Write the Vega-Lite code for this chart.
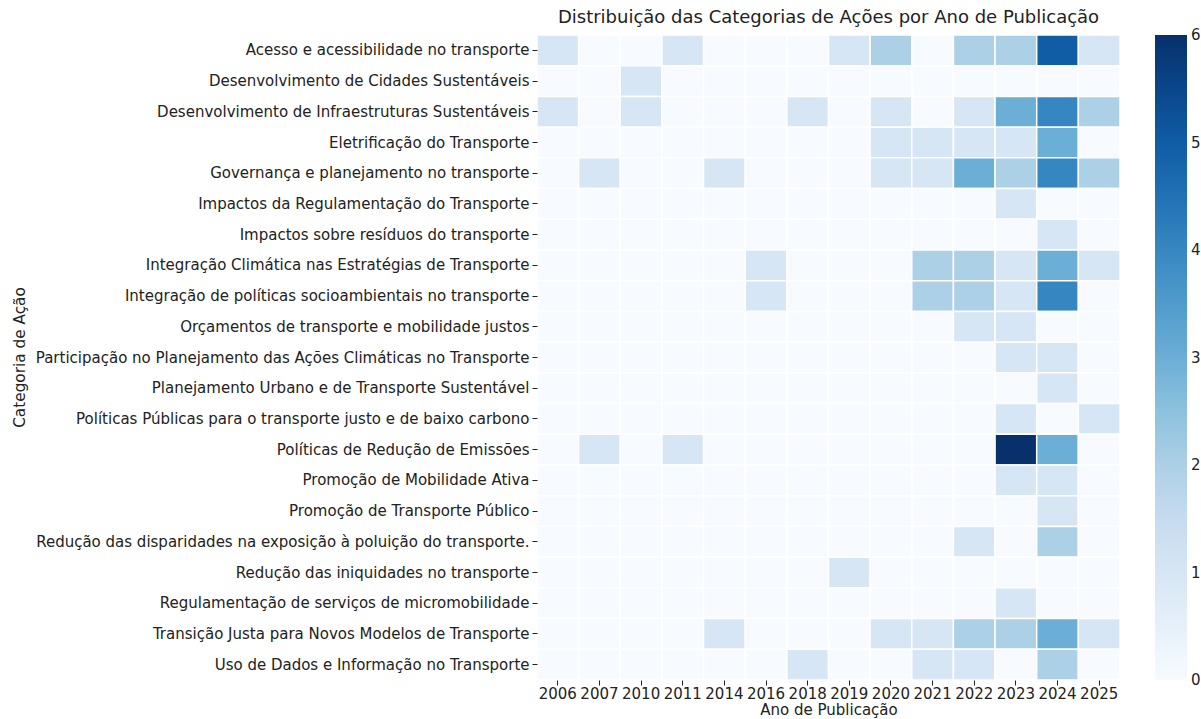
{
  "$schema": "https://vega.github.io/schema/vega-lite/v6.json",
  "width": 583,
  "height": 645,
  "autosize": "none",
  "padding": {"left": 537, "top": 35, "right": 81, "bottom": 39},
  "background": "white",
  "title": {"text": "Distribuição das Categorias de Ações por Ano de Publicação", "font": "DejaVu Sans", "fontSize": 18, "fontWeight": "normal", "color": "#222", "anchor": "middle", "offset": 7},
  "data": {"values": [
    {"c":"Acesso e acessibilidade no transporte","y":"2006","v":1},{"c":"Acesso e acessibilidade no transporte","y":"2007","v":0},{"c":"Acesso e acessibilidade no transporte","y":"2010","v":0},{"c":"Acesso e acessibilidade no transporte","y":"2011","v":1},{"c":"Acesso e acessibilidade no transporte","y":"2014","v":0},{"c":"Acesso e acessibilidade no transporte","y":"2016","v":0},{"c":"Acesso e acessibilidade no transporte","y":"2018","v":0},{"c":"Acesso e acessibilidade no transporte","y":"2019","v":1},{"c":"Acesso e acessibilidade no transporte","y":"2020","v":2},{"c":"Acesso e acessibilidade no transporte","y":"2021","v":0},{"c":"Acesso e acessibilidade no transporte","y":"2022","v":2},{"c":"Acesso e acessibilidade no transporte","y":"2023","v":2},{"c":"Acesso e acessibilidade no transporte","y":"2024","v":5},{"c":"Acesso e acessibilidade no transporte","y":"2025","v":1},
    {"c":"Desenvolvimento de Cidades Sustentáveis","y":"2006","v":0},{"c":"Desenvolvimento de Cidades Sustentáveis","y":"2007","v":0},{"c":"Desenvolvimento de Cidades Sustentáveis","y":"2010","v":1},{"c":"Desenvolvimento de Cidades Sustentáveis","y":"2011","v":0},{"c":"Desenvolvimento de Cidades Sustentáveis","y":"2014","v":0},{"c":"Desenvolvimento de Cidades Sustentáveis","y":"2016","v":0},{"c":"Desenvolvimento de Cidades Sustentáveis","y":"2018","v":0},{"c":"Desenvolvimento de Cidades Sustentáveis","y":"2019","v":0},{"c":"Desenvolvimento de Cidades Sustentáveis","y":"2020","v":0},{"c":"Desenvolvimento de Cidades Sustentáveis","y":"2021","v":0},{"c":"Desenvolvimento de Cidades Sustentáveis","y":"2022","v":0},{"c":"Desenvolvimento de Cidades Sustentáveis","y":"2023","v":0},{"c":"Desenvolvimento de Cidades Sustentáveis","y":"2024","v":0},{"c":"Desenvolvimento de Cidades Sustentáveis","y":"2025","v":0},
    {"c":"Desenvolvimento de Infraestruturas Sustentáveis","y":"2006","v":1},{"c":"Desenvolvimento de Infraestruturas Sustentáveis","y":"2007","v":0},{"c":"Desenvolvimento de Infraestruturas Sustentáveis","y":"2010","v":1},{"c":"Desenvolvimento de Infraestruturas Sustentáveis","y":"2011","v":0},{"c":"Desenvolvimento de Infraestruturas Sustentáveis","y":"2014","v":0},{"c":"Desenvolvimento de Infraestruturas Sustentáveis","y":"2016","v":0},{"c":"Desenvolvimento de Infraestruturas Sustentáveis","y":"2018","v":1},{"c":"Desenvolvimento de Infraestruturas Sustentáveis","y":"2019","v":0},{"c":"Desenvolvimento de Infraestruturas Sustentáveis","y":"2020","v":1},{"c":"Desenvolvimento de Infraestruturas Sustentáveis","y":"2021","v":0},{"c":"Desenvolvimento de Infraestruturas Sustentáveis","y":"2022","v":1},{"c":"Desenvolvimento de Infraestruturas Sustentáveis","y":"2023","v":3},{"c":"Desenvolvimento de Infraestruturas Sustentáveis","y":"2024","v":4},{"c":"Desenvolvimento de Infraestruturas Sustentáveis","y":"2025","v":2},
    {"c":"Eletrificação do Transporte","y":"2006","v":0},{"c":"Eletrificação do Transporte","y":"2007","v":0},{"c":"Eletrificação do Transporte","y":"2010","v":0},{"c":"Eletrificação do Transporte","y":"2011","v":0},{"c":"Eletrificação do Transporte","y":"2014","v":0},{"c":"Eletrificação do Transporte","y":"2016","v":0},{"c":"Eletrificação do Transporte","y":"2018","v":0},{"c":"Eletrificação do Transporte","y":"2019","v":0},{"c":"Eletrificação do Transporte","y":"2020","v":1},{"c":"Eletrificação do Transporte","y":"2021","v":1},{"c":"Eletrificação do Transporte","y":"2022","v":1},{"c":"Eletrificação do Transporte","y":"2023","v":1},{"c":"Eletrificação do Transporte","y":"2024","v":3},{"c":"Eletrificação do Transporte","y":"2025","v":0},
    {"c":"Governança e planejamento no transporte","y":"2006","v":0},{"c":"Governança e planejamento no transporte","y":"2007","v":1},{"c":"Governança e planejamento no transporte","y":"2010","v":0},{"c":"Governança e planejamento no transporte","y":"2011","v":0},{"c":"Governança e planejamento no transporte","y":"2014","v":1},{"c":"Governança e planejamento no transporte","y":"2016","v":0},{"c":"Governança e planejamento no transporte","y":"2018","v":0},{"c":"Governança e planejamento no transporte","y":"2019","v":0},{"c":"Governança e planejamento no transporte","y":"2020","v":1},{"c":"Governança e planejamento no transporte","y":"2021","v":1},{"c":"Governança e planejamento no transporte","y":"2022","v":3},{"c":"Governança e planejamento no transporte","y":"2023","v":2},{"c":"Governança e planejamento no transporte","y":"2024","v":4},{"c":"Governança e planejamento no transporte","y":"2025","v":2},
    {"c":"Impactos da Regulamentação do Transporte","y":"2006","v":0},{"c":"Impactos da Regulamentação do Transporte","y":"2007","v":0},{"c":"Impactos da Regulamentação do Transporte","y":"2010","v":0},{"c":"Impactos da Regulamentação do Transporte","y":"2011","v":0},{"c":"Impactos da Regulamentação do Transporte","y":"2014","v":0},{"c":"Impactos da Regulamentação do Transporte","y":"2016","v":0},{"c":"Impactos da Regulamentação do Transporte","y":"2018","v":0},{"c":"Impactos da Regulamentação do Transporte","y":"2019","v":0},{"c":"Impactos da Regulamentação do Transporte","y":"2020","v":0},{"c":"Impactos da Regulamentação do Transporte","y":"2021","v":0},{"c":"Impactos da Regulamentação do Transporte","y":"2022","v":0},{"c":"Impactos da Regulamentação do Transporte","y":"2023","v":1},{"c":"Impactos da Regulamentação do Transporte","y":"2024","v":0},{"c":"Impactos da Regulamentação do Transporte","y":"2025","v":0},
    {"c":"Impactos sobre resíduos do transporte","y":"2006","v":0},{"c":"Impactos sobre resíduos do transporte","y":"2007","v":0},{"c":"Impactos sobre resíduos do transporte","y":"2010","v":0},{"c":"Impactos sobre resíduos do transporte","y":"2011","v":0},{"c":"Impactos sobre resíduos do transporte","y":"2014","v":0},{"c":"Impactos sobre resíduos do transporte","y":"2016","v":0},{"c":"Impactos sobre resíduos do transporte","y":"2018","v":0},{"c":"Impactos sobre resíduos do transporte","y":"2019","v":0},{"c":"Impactos sobre resíduos do transporte","y":"2020","v":0},{"c":"Impactos sobre resíduos do transporte","y":"2021","v":0},{"c":"Impactos sobre resíduos do transporte","y":"2022","v":0},{"c":"Impactos sobre resíduos do transporte","y":"2023","v":0},{"c":"Impactos sobre resíduos do transporte","y":"2024","v":1},{"c":"Impactos sobre resíduos do transporte","y":"2025","v":0},
    {"c":"Integração Climática nas Estratégias de Transporte","y":"2006","v":0},{"c":"Integração Climática nas Estratégias de Transporte","y":"2007","v":0},{"c":"Integração Climática nas Estratégias de Transporte","y":"2010","v":0},{"c":"Integração Climática nas Estratégias de Transporte","y":"2011","v":0},{"c":"Integração Climática nas Estratégias de Transporte","y":"2014","v":0},{"c":"Integração Climática nas Estratégias de Transporte","y":"2016","v":1},{"c":"Integração Climática nas Estratégias de Transporte","y":"2018","v":0},{"c":"Integração Climática nas Estratégias de Transporte","y":"2019","v":0},{"c":"Integração Climática nas Estratégias de Transporte","y":"2020","v":0},{"c":"Integração Climática nas Estratégias de Transporte","y":"2021","v":2},{"c":"Integração Climática nas Estratégias de Transporte","y":"2022","v":2},{"c":"Integração Climática nas Estratégias de Transporte","y":"2023","v":1},{"c":"Integração Climática nas Estratégias de Transporte","y":"2024","v":3},{"c":"Integração Climática nas Estratégias de Transporte","y":"2025","v":1},
    {"c":"Integração de políticas socioambientais no transporte","y":"2006","v":0},{"c":"Integração de políticas socioambientais no transporte","y":"2007","v":0},{"c":"Integração de políticas socioambientais no transporte","y":"2010","v":0},{"c":"Integração de políticas socioambientais no transporte","y":"2011","v":0},{"c":"Integração de políticas socioambientais no transporte","y":"2014","v":0},{"c":"Integração de políticas socioambientais no transporte","y":"2016","v":1},{"c":"Integração de políticas socioambientais no transporte","y":"2018","v":0},{"c":"Integração de políticas socioambientais no transporte","y":"2019","v":0},{"c":"Integração de políticas socioambientais no transporte","y":"2020","v":0},{"c":"Integração de políticas socioambientais no transporte","y":"2021","v":2},{"c":"Integração de políticas socioambientais no transporte","y":"2022","v":2},{"c":"Integração de políticas socioambientais no transporte","y":"2023","v":1},{"c":"Integração de políticas socioambientais no transporte","y":"2024","v":4},{"c":"Integração de políticas socioambientais no transporte","y":"2025","v":0},
    {"c":"Orçamentos de transporte e mobilidade justos","y":"2006","v":0},{"c":"Orçamentos de transporte e mobilidade justos","y":"2007","v":0},{"c":"Orçamentos de transporte e mobilidade justos","y":"2010","v":0},{"c":"Orçamentos de transporte e mobilidade justos","y":"2011","v":0},{"c":"Orçamentos de transporte e mobilidade justos","y":"2014","v":0},{"c":"Orçamentos de transporte e mobilidade justos","y":"2016","v":0},{"c":"Orçamentos de transporte e mobilidade justos","y":"2018","v":0},{"c":"Orçamentos de transporte e mobilidade justos","y":"2019","v":0},{"c":"Orçamentos de transporte e mobilidade justos","y":"2020","v":0},{"c":"Orçamentos de transporte e mobilidade justos","y":"2021","v":0},{"c":"Orçamentos de transporte e mobilidade justos","y":"2022","v":1},{"c":"Orçamentos de transporte e mobilidade justos","y":"2023","v":1},{"c":"Orçamentos de transporte e mobilidade justos","y":"2024","v":0},{"c":"Orçamentos de transporte e mobilidade justos","y":"2025","v":0},
    {"c":"Participação no Planejamento das Ações Climáticas no Transporte","y":"2006","v":0},{"c":"Participação no Planejamento das Ações Climáticas no Transporte","y":"2007","v":0},{"c":"Participação no Planejamento das Ações Climáticas no Transporte","y":"2010","v":0},{"c":"Participação no Planejamento das Ações Climáticas no Transporte","y":"2011","v":0},{"c":"Participação no Planejamento das Ações Climáticas no Transporte","y":"2014","v":0},{"c":"Participação no Planejamento das Ações Climáticas no Transporte","y":"2016","v":0},{"c":"Participação no Planejamento das Ações Climáticas no Transporte","y":"2018","v":0},{"c":"Participação no Planejamento das Ações Climáticas no Transporte","y":"2019","v":0},{"c":"Participação no Planejamento das Ações Climáticas no Transporte","y":"2020","v":0},{"c":"Participação no Planejamento das Ações Climáticas no Transporte","y":"2021","v":0},{"c":"Participação no Planejamento das Ações Climáticas no Transporte","y":"2022","v":0},{"c":"Participação no Planejamento das Ações Climáticas no Transporte","y":"2023","v":1},{"c":"Participação no Planejamento das Ações Climáticas no Transporte","y":"2024","v":1},{"c":"Participação no Planejamento das Ações Climáticas no Transporte","y":"2025","v":0},
    {"c":"Planejamento Urbano e de Transporte Sustentável","y":"2006","v":0},{"c":"Planejamento Urbano e de Transporte Sustentável","y":"2007","v":0},{"c":"Planejamento Urbano e de Transporte Sustentável","y":"2010","v":0},{"c":"Planejamento Urbano e de Transporte Sustentável","y":"2011","v":0},{"c":"Planejamento Urbano e de Transporte Sustentável","y":"2014","v":0},{"c":"Planejamento Urbano e de Transporte Sustentável","y":"2016","v":0},{"c":"Planejamento Urbano e de Transporte Sustentável","y":"2018","v":0},{"c":"Planejamento Urbano e de Transporte Sustentável","y":"2019","v":0},{"c":"Planejamento Urbano e de Transporte Sustentável","y":"2020","v":0},{"c":"Planejamento Urbano e de Transporte Sustentável","y":"2021","v":0},{"c":"Planejamento Urbano e de Transporte Sustentável","y":"2022","v":0},{"c":"Planejamento Urbano e de Transporte Sustentável","y":"2023","v":0},{"c":"Planejamento Urbano e de Transporte Sustentável","y":"2024","v":1},{"c":"Planejamento Urbano e de Transporte Sustentável","y":"2025","v":0},
    {"c":"Políticas Públicas para o transporte justo e de baixo carbono","y":"2006","v":0},{"c":"Políticas Públicas para o transporte justo e de baixo carbono","y":"2007","v":0},{"c":"Políticas Públicas para o transporte justo e de baixo carbono","y":"2010","v":0},{"c":"Políticas Públicas para o transporte justo e de baixo carbono","y":"2011","v":0},{"c":"Políticas Públicas para o transporte justo e de baixo carbono","y":"2014","v":0},{"c":"Políticas Públicas para o transporte justo e de baixo carbono","y":"2016","v":0},{"c":"Políticas Públicas para o transporte justo e de baixo carbono","y":"2018","v":0},{"c":"Políticas Públicas para o transporte justo e de baixo carbono","y":"2019","v":0},{"c":"Políticas Públicas para o transporte justo e de baixo carbono","y":"2020","v":0},{"c":"Políticas Públicas para o transporte justo e de baixo carbono","y":"2021","v":0},{"c":"Políticas Públicas para o transporte justo e de baixo carbono","y":"2022","v":0},{"c":"Políticas Públicas para o transporte justo e de baixo carbono","y":"2023","v":1},{"c":"Políticas Públicas para o transporte justo e de baixo carbono","y":"2024","v":0},{"c":"Políticas Públicas para o transporte justo e de baixo carbono","y":"2025","v":1},
    {"c":"Políticas de Redução de Emissões","y":"2006","v":0},{"c":"Políticas de Redução de Emissões","y":"2007","v":1},{"c":"Políticas de Redução de Emissões","y":"2010","v":0},{"c":"Políticas de Redução de Emissões","y":"2011","v":1},{"c":"Políticas de Redução de Emissões","y":"2014","v":0},{"c":"Políticas de Redução de Emissões","y":"2016","v":0},{"c":"Políticas de Redução de Emissões","y":"2018","v":0},{"c":"Políticas de Redução de Emissões","y":"2019","v":0},{"c":"Políticas de Redução de Emissões","y":"2020","v":0},{"c":"Políticas de Redução de Emissões","y":"2021","v":0},{"c":"Políticas de Redução de Emissões","y":"2022","v":0},{"c":"Políticas de Redução de Emissões","y":"2023","v":6},{"c":"Políticas de Redução de Emissões","y":"2024","v":3},{"c":"Políticas de Redução de Emissões","y":"2025","v":0},
    {"c":"Promoção de Mobilidade Ativa","y":"2006","v":0},{"c":"Promoção de Mobilidade Ativa","y":"2007","v":0},{"c":"Promoção de Mobilidade Ativa","y":"2010","v":0},{"c":"Promoção de Mobilidade Ativa","y":"2011","v":0},{"c":"Promoção de Mobilidade Ativa","y":"2014","v":0},{"c":"Promoção de Mobilidade Ativa","y":"2016","v":0},{"c":"Promoção de Mobilidade Ativa","y":"2018","v":0},{"c":"Promoção de Mobilidade Ativa","y":"2019","v":0},{"c":"Promoção de Mobilidade Ativa","y":"2020","v":0},{"c":"Promoção de Mobilidade Ativa","y":"2021","v":0},{"c":"Promoção de Mobilidade Ativa","y":"2022","v":0},{"c":"Promoção de Mobilidade Ativa","y":"2023","v":1},{"c":"Promoção de Mobilidade Ativa","y":"2024","v":1},{"c":"Promoção de Mobilidade Ativa","y":"2025","v":0},
    {"c":"Promoção de Transporte Público","y":"2006","v":0},{"c":"Promoção de Transporte Público","y":"2007","v":0},{"c":"Promoção de Transporte Público","y":"2010","v":0},{"c":"Promoção de Transporte Público","y":"2011","v":0},{"c":"Promoção de Transporte Público","y":"2014","v":0},{"c":"Promoção de Transporte Público","y":"2016","v":0},{"c":"Promoção de Transporte Público","y":"2018","v":0},{"c":"Promoção de Transporte Público","y":"2019","v":0},{"c":"Promoção de Transporte Público","y":"2020","v":0},{"c":"Promoção de Transporte Público","y":"2021","v":0},{"c":"Promoção de Transporte Público","y":"2022","v":0},{"c":"Promoção de Transporte Público","y":"2023","v":0},{"c":"Promoção de Transporte Público","y":"2024","v":1},{"c":"Promoção de Transporte Público","y":"2025","v":0},
    {"c":"Redução das disparidades na exposição à poluição do transporte.","y":"2006","v":0},{"c":"Redução das disparidades na exposição à poluição do transporte.","y":"2007","v":0},{"c":"Redução das disparidades na exposição à poluição do transporte.","y":"2010","v":0},{"c":"Redução das disparidades na exposição à poluição do transporte.","y":"2011","v":0},{"c":"Redução das disparidades na exposição à poluição do transporte.","y":"2014","v":0},{"c":"Redução das disparidades na exposição à poluição do transporte.","y":"2016","v":0},{"c":"Redução das disparidades na exposição à poluição do transporte.","y":"2018","v":0},{"c":"Redução das disparidades na exposição à poluição do transporte.","y":"2019","v":0},{"c":"Redução das disparidades na exposição à poluição do transporte.","y":"2020","v":0},{"c":"Redução das disparidades na exposição à poluição do transporte.","y":"2021","v":0},{"c":"Redução das disparidades na exposição à poluição do transporte.","y":"2022","v":1},{"c":"Redução das disparidades na exposição à poluição do transporte.","y":"2023","v":0},{"c":"Redução das disparidades na exposição à poluição do transporte.","y":"2024","v":2},{"c":"Redução das disparidades na exposição à poluição do transporte.","y":"2025","v":0},
    {"c":"Redução das iniquidades no transporte","y":"2006","v":0},{"c":"Redução das iniquidades no transporte","y":"2007","v":0},{"c":"Redução das iniquidades no transporte","y":"2010","v":0},{"c":"Redução das iniquidades no transporte","y":"2011","v":0},{"c":"Redução das iniquidades no transporte","y":"2014","v":0},{"c":"Redução das iniquidades no transporte","y":"2016","v":0},{"c":"Redução das iniquidades no transporte","y":"2018","v":0},{"c":"Redução das iniquidades no transporte","y":"2019","v":1},{"c":"Redução das iniquidades no transporte","y":"2020","v":0},{"c":"Redução das iniquidades no transporte","y":"2021","v":0},{"c":"Redução das iniquidades no transporte","y":"2022","v":0},{"c":"Redução das iniquidades no transporte","y":"2023","v":0},{"c":"Redução das iniquidades no transporte","y":"2024","v":0},{"c":"Redução das iniquidades no transporte","y":"2025","v":0},
    {"c":"Regulamentação de serviços de micromobilidade","y":"2006","v":0},{"c":"Regulamentação de serviços de micromobilidade","y":"2007","v":0},{"c":"Regulamentação de serviços de micromobilidade","y":"2010","v":0},{"c":"Regulamentação de serviços de micromobilidade","y":"2011","v":0},{"c":"Regulamentação de serviços de micromobilidade","y":"2014","v":0},{"c":"Regulamentação de serviços de micromobilidade","y":"2016","v":0},{"c":"Regulamentação de serviços de micromobilidade","y":"2018","v":0},{"c":"Regulamentação de serviços de micromobilidade","y":"2019","v":0},{"c":"Regulamentação de serviços de micromobilidade","y":"2020","v":0},{"c":"Regulamentação de serviços de micromobilidade","y":"2021","v":0},{"c":"Regulamentação de serviços de micromobilidade","y":"2022","v":0},{"c":"Regulamentação de serviços de micromobilidade","y":"2023","v":1},{"c":"Regulamentação de serviços de micromobilidade","y":"2024","v":0},{"c":"Regulamentação de serviços de micromobilidade","y":"2025","v":0},
    {"c":"Transição Justa para Novos Modelos de Transporte","y":"2006","v":0},{"c":"Transição Justa para Novos Modelos de Transporte","y":"2007","v":0},{"c":"Transição Justa para Novos Modelos de Transporte","y":"2010","v":0},{"c":"Transição Justa para Novos Modelos de Transporte","y":"2011","v":0},{"c":"Transição Justa para Novos Modelos de Transporte","y":"2014","v":1},{"c":"Transição Justa para Novos Modelos de Transporte","y":"2016","v":0},{"c":"Transição Justa para Novos Modelos de Transporte","y":"2018","v":0},{"c":"Transição Justa para Novos Modelos de Transporte","y":"2019","v":0},{"c":"Transição Justa para Novos Modelos de Transporte","y":"2020","v":1},{"c":"Transição Justa para Novos Modelos de Transporte","y":"2021","v":1},{"c":"Transição Justa para Novos Modelos de Transporte","y":"2022","v":2},{"c":"Transição Justa para Novos Modelos de Transporte","y":"2023","v":2},{"c":"Transição Justa para Novos Modelos de Transporte","y":"2024","v":3},{"c":"Transição Justa para Novos Modelos de Transporte","y":"2025","v":1},
    {"c":"Uso de Dados e Informação no Transporte","y":"2006","v":0},{"c":"Uso de Dados e Informação no Transporte","y":"2007","v":0},{"c":"Uso de Dados e Informação no Transporte","y":"2010","v":0},{"c":"Uso de Dados e Informação no Transporte","y":"2011","v":0},{"c":"Uso de Dados e Informação no Transporte","y":"2014","v":0},{"c":"Uso de Dados e Informação no Transporte","y":"2016","v":0},{"c":"Uso de Dados e Informação no Transporte","y":"2018","v":1},{"c":"Uso de Dados e Informação no Transporte","y":"2019","v":0},{"c":"Uso de Dados e Informação no Transporte","y":"2020","v":0},{"c":"Uso de Dados e Informação no Transporte","y":"2021","v":1},{"c":"Uso de Dados e Informação no Transporte","y":"2022","v":1},{"c":"Uso de Dados e Informação no Transporte","y":"2023","v":0},{"c":"Uso de Dados e Informação no Transporte","y":"2024","v":2},{"c":"Uso de Dados e Informação no Transporte","y":"2025","v":0}
  ]},
  "mark": {"type": "rect", "stroke": "white", "strokeWidth": 1.5},
  "encoding": {
    "x": {"field": "y", "type": "ordinal", "sort": null, "title": "Ano de Publicação",
      "scale": {"paddingInner": 0, "paddingOuter": 0},
      "axis": {"labelAngle": 0, "domain": false, "tickSize": 5, "tickColor": "#222", "labelFontSize": 15, "titleFontSize": 15, "labelPadding": 1, "titleFontWeight": "normal", "titleY": 34, "titleBaseline": "alphabetic"}},
    "y": {"field": "c", "type": "nominal", "sort": null, "title": "Categoria de Ação",
      "scale": {"paddingInner": 0, "paddingOuter": 0},
      "axis": {"domain": false, "tickSize": 5, "tickColor": "#222", "labelFontSize": 15, "titleFontSize": 15.3, "labelLimit": 700, "labelPadding": 3, "titleFontWeight": "normal", "titleX": -510, "titleY": 322, "titleAngle": 270, "titleBaseline": "bottom", "titleAlign": "center"}},
    "color": {"field": "v", "type": "quantitative", "title": null,
      "scale": {"domain": [0, 0.75, 1.5, 2.25, 3, 3.75, 4.5, 5.25, 6], "range": ["#f7fbff", "#deebf7", "#c6dbef", "#9ecae1", "#6baed6", "#4292c6", "#2171b5", "#08519c", "#08306b"]},
      "legend": {"orient": "none", "legendX": 618, "legendY": 0, "direction": "vertical", "gradientLength": 645, "gradientThickness": 32, "values": [0, 1, 2, 3, 4, 5, 6], "format": "d", "labelFontSize": 15, "labelOffset": 4, "labelBaseline": "middle", "gradientStrokeWidth": 0,
        "encoding": {"labels": {"baseline": {"value": "middle"}}}}}
  },
  "config": {
    "font": "DejaVu Sans",
    "view": {"stroke": null},
    "axis": {"labelColor": "#222", "titleColor": "#222", "labelFont": "DejaVu Sans", "titleFont": "DejaVu Sans"},
    "legend": {"labelColor": "#222", "labelFont": "DejaVu Sans"}
  }
}
